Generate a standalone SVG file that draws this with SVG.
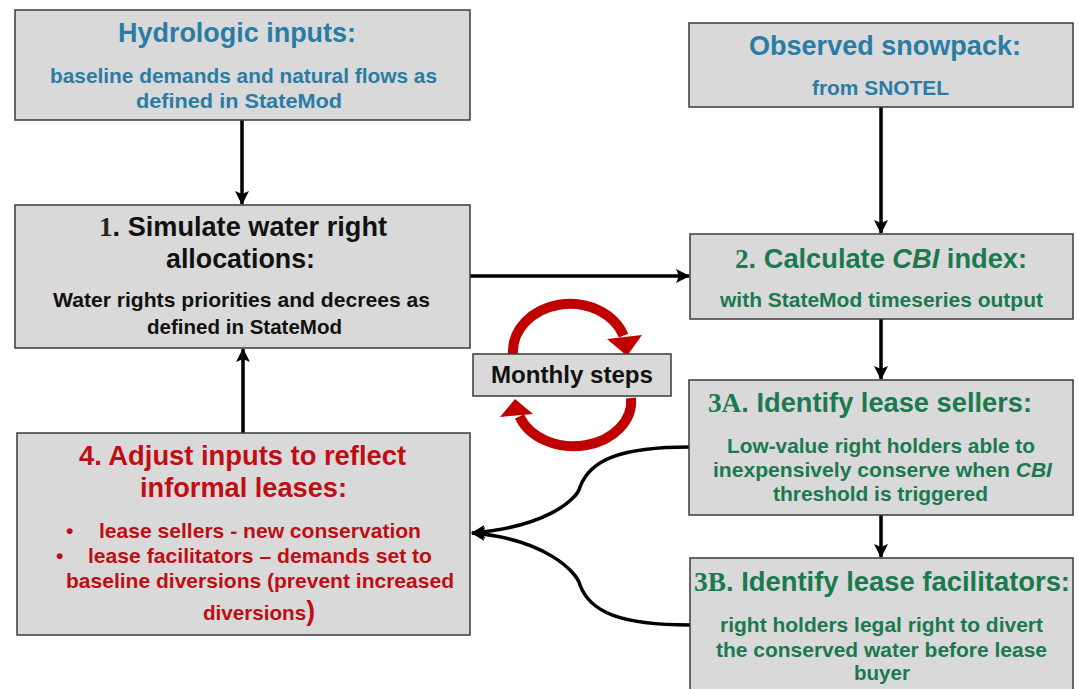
<svg xmlns="http://www.w3.org/2000/svg" width="1078" height="689" viewBox="0 0 1078 689">
<defs>
<style>
.box{fill:#d9d9d9;stroke:#3a3a3a;stroke-width:1.5}
.t{font-family:"Liberation Sans",Arial,sans-serif;font-weight:bold}
.h{font-size:27px}
.s{font-size:21px}
.blue{fill:#2a7ca5}
.green{fill:#1a7a4e}
.red{fill:#c00d14}
.blk{fill:#111}
.serif{font-family:"Liberation Serif","Times New Roman",serif}
.conn{fill:none;stroke:#000;stroke-width:3.5}
.loop{fill:none;stroke:#c00000;stroke-width:10}
</style>
<marker id="ah" viewBox="0 0 14 14" refX="13" refY="7" markerWidth="14" markerHeight="14" markerUnits="userSpaceOnUse" orient="auto">
<path d="M0,0 L14,7 L0,14 L3,7 Z" fill="#000"/>
</marker>
<linearGradient id="rg" x1="0" y1="0" x2="1" y2="0">
<stop offset="0" stop-color="#b00000"/>
<stop offset="0.5" stop-color="#d00000"/>
<stop offset="1" stop-color="#a00000"/>
</linearGradient>
</defs>
<rect width="1078" height="689" fill="#fff"/>

<g id="connectors">
<line class="conn" x1="242" y1="120" x2="242" y2="204" marker-end="url(#ah)"/>
<line class="conn" x1="881" y1="107" x2="881" y2="233" marker-end="url(#ah)"/>
<line class="conn" x1="470" y1="276" x2="689" y2="276" marker-end="url(#ah)"/>
<line class="conn" x1="243" y1="433" x2="243" y2="349" marker-end="url(#ah)"/>
<line class="conn" x1="881" y1="319" x2="881" y2="379" marker-end="url(#ah)"/>
<line class="conn" x1="881" y1="515" x2="881" y2="557" marker-end="url(#ah)"/>
<path class="conn" d="M690,447 C620,447 590,460 580,487 C577,500 545,527 472,533" marker-end="url(#ah)"/>
<path class="conn" d="M690,625 C620,625 590,612 580,585 C577,572 545,539 472,533" marker-end="url(#ah)"/>
</g>

<g id="loop">
<path class="loop" stroke="url(#rg)" d="M513,354 A57,48 0 0 1 623.6,335.6"/>
<polygon points="607,339 642,335 627,356" fill="#c00000"/>
<path class="loop" stroke="url(#rg)" d="M631,398 A57.5,45 0 0 1 519.5,416.4"/>
<polygon points="500,417 533,414 515,399" fill="#c00000"/>
</g>

<g id="hydrologic">
<rect class="box" x="15" y="10" width="455" height="110"/>
<text class="t h blue" x="118" y="42" textLength="238" lengthAdjust="spacingAndGlyphs">Hydrologic inputs:</text>
<text class="t s blue" x="50" y="83" textLength="387" lengthAdjust="spacingAndGlyphs">baseline demands and natural flows as</text>
<text class="t s blue" x="136" y="108" textLength="206" lengthAdjust="spacingAndGlyphs">defined in StateMod</text>
</g>

<g id="snowpack">
<rect class="box" x="689" y="23" width="384" height="84"/>
<text class="t h blue" x="749" y="55" textLength="272" lengthAdjust="spacingAndGlyphs">Observed snowpack:</text>
<text class="t s blue" x="812" y="95" textLength="137" lengthAdjust="spacingAndGlyphs">from SNOTEL</text>
</g>

<g id="step1">
<rect class="box" x="15" y="205" width="455" height="143"/>
<text class="t h blk" x="99" y="236" textLength="288" lengthAdjust="spacingAndGlyphs"><tspan class="serif" fill="#2a2418">1</tspan>. Simulate water right</text>
<text class="t h blk" x="166" y="268" textLength="149" lengthAdjust="spacingAndGlyphs">allocations:</text>
<text class="t s blk" x="53" y="307" textLength="377" lengthAdjust="spacingAndGlyphs">Water rights priorities and decrees as</text>
<text class="t s blk" x="147" y="334" textLength="195" lengthAdjust="spacingAndGlyphs">defined in StateMod</text>
</g>

<g id="step2">
<rect class="box" x="690" y="234" width="383" height="85"/>
<text class="t h green" x="735" y="268" textLength="292" lengthAdjust="spacingAndGlyphs"><tspan class="serif">2</tspan>. Calculate <tspan font-style="italic">CBI</tspan> index:</text>
<text class="t s green" x="720" y="307" textLength="323" lengthAdjust="spacingAndGlyphs">with StateMod timeseries output</text>
</g>

<g id="monthly">
<rect class="box" x="473" y="354" width="198" height="42"/>
<text class="t blk" font-size="23" x="491" y="383" textLength="162" lengthAdjust="spacingAndGlyphs">Monthly steps</text>
</g>

<g id="step3a">
<rect class="box" x="689" y="380" width="384" height="135"/>
<text class="t h green" x="708" y="412" textLength="324" lengthAdjust="spacingAndGlyphs"><tspan class="serif">3A</tspan>. Identify lease sellers:</text>
<text class="t s green" x="727" y="453" textLength="308" lengthAdjust="spacingAndGlyphs">Low-value right holders able to</text>
<text class="t s green" x="713" y="477" textLength="339" lengthAdjust="spacingAndGlyphs">inexpensively conserve when <tspan font-style="italic">CBI</tspan></text>
<text class="t s green" x="773" y="501" textLength="215" lengthAdjust="spacingAndGlyphs">threshold is triggered</text>
</g>

<g id="step3b">
<rect class="box" x="690" y="558" width="383" height="140"/>
<text class="t h green" x="694" y="591" textLength="376" lengthAdjust="spacingAndGlyphs"><tspan class="serif">3B</tspan>. Identify lease facilitators:</text>
<text class="t s green" x="720" y="632" textLength="323" lengthAdjust="spacingAndGlyphs">right holders legal right to divert</text>
<text class="t s green" x="716" y="657" textLength="331" lengthAdjust="spacingAndGlyphs">the conserved water before lease</text>
<text class="t s green" x="854" y="680" textLength="56" lengthAdjust="spacingAndGlyphs">buyer</text>
</g>

<g id="step4">
<rect class="box" x="17" y="433" width="453" height="202"/>
<text class="t h red" x="79" y="465" textLength="327" lengthAdjust="spacingAndGlyphs">4. Adjust inputs to reflect</text>
<text class="t h red" x="140" y="497" textLength="207" lengthAdjust="spacingAndGlyphs">informal leases:</text>
<text class="t s red" x="66" y="538">•</text>
<text class="t s red" x="99" y="538" textLength="322" lengthAdjust="spacingAndGlyphs">lease sellers - new conservation</text>
<text class="t s red" x="56" y="563">•</text>
<text class="t s red" x="88" y="563" textLength="344" lengthAdjust="spacingAndGlyphs">lease facilitators – demands set to</text>
<text class="t s red" x="66" y="588" textLength="388" lengthAdjust="spacingAndGlyphs">baseline diversions (prevent increased</text>
<text class="t s red" x="203" y="620" textLength="112" lengthAdjust="spacingAndGlyphs">diversions<tspan font-size="27">)</tspan></text>
</g>
</svg>
